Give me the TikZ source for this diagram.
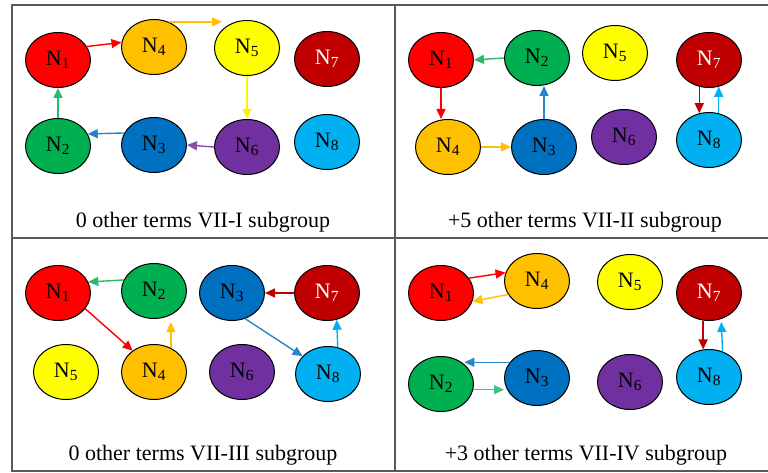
\documentclass[tikz,border=0pt]{standalone}
\usepackage{fontspec}
\setmainfont{Liberation Serif}
\usetikzlibrary{arrows.meta,shapes.geometric}

\definecolor{cred}{HTML}{FF0000}
\definecolor{cgreen}{HTML}{00B050}
\definecolor{cblue}{HTML}{0070C0}
\definecolor{corange}{HTML}{FFC000}
\definecolor{cyellow}{HTML}{FFFF00}
\definecolor{cpurple}{HTML}{7030A0}
\definecolor{cdarkred}{HTML}{C00000}
\definecolor{clightblue}{HTML}{00B0F0}

\newcommand{\Nsub}[1]{N\textsubscript{#1}}

\begin{document}
\begin{tikzpicture}[x=1pt,y=-1pt,
  every node/.style = {font=\fontsize{22}{26}\selectfont},
  term/.style = {ellipse, draw=black, line width=1pt,
    minimum width=65pt, minimum height=55pt, inner sep=0pt},
  link/.style = {line width=1.4pt, -{Triangle[length=10pt,width=9pt]}},
  caption/.style = {anchor=base},
  frame/.style = {draw=black!65, line width=1.5pt}]
  \useasboundingbox (0,0) rectangle (768,473);

  % panel grid
  \draw[frame] (768,5) -- (12,5) -- (12,471) -- (768,471);
  \draw[frame] (395,5) -- (395,471);
  \draw[frame] (12,238) -- (768,238);

  % VII-I
  \node[term, fill=cred] (p1n1) at (58,60) {\Nsub1};
  \node[term, fill=corange] (p1n4) at (154,47) {\Nsub4};
  \node[term, fill=cyellow] (p1n5) at (247,48) {\Nsub5};
  \node[term, fill=cdarkred, text=white] (p1n7) at (327,59) {\Nsub7};
  \node[term, fill=cgreen] (p1n2) at (58,146) {\Nsub2};
  \node[term, fill=cblue] (p1n3) at (154,145) {\Nsub3};
  \node[term, fill=cpurple] (p1n6) at (247,147) {\Nsub6};
  \node[term, fill=clightblue] (p1n8) at (327,142) {\Nsub8};
  \draw[link, cred] (p1n1.25) -- (p1n4.172);
  \draw[link, corange] (p1n4.60) -- ([xshift=8pt]p1n4.60 -| p1n5.west);
  \draw[link, cyellow!90!orange] (p1n5.south) -- (p1n6.north);
  \draw[link, cpurple!85!white] (p1n6.west) -- (p1n3.east);
  \draw[link, cblue!85!white] (p1n3.158) -- (p1n2.22);
  \draw[link, cgreen!85!white] (p1n2.north) -- (p1n1.south);
  \node[caption] (cap1) at (203,227) {0 other terms VII-I subgroup};

  % VII-II
  \node[term, fill=cred] (p2n1) at (441,60) {\Nsub1};
  \node[term, fill=cgreen] (p2n2) at (537,58) {\Nsub2};
  \node[term, fill=cyellow] (p2n5) at (615,53) {\Nsub5};
  \node[term, fill=cdarkred, text=white] (p2n7) at (709,60) {\Nsub7};
  \node[term, fill=corange] (p2n4) at (448,147) {\Nsub4};
  \node[term, fill=cblue] (p2n3) at (544,147) {\Nsub3};
  \node[term, fill=cpurple] (p2n6) at (624,137) {\Nsub6};
  \node[term, fill=clightblue] (p2n8) at (709,140) {\Nsub8};
  \draw[link, cgreen!85!white] (p2n2.west) -- (p2n1.east);
  \draw[link, cred] (p2n1.south) -- (p2n1.south |- p2n4.north);
  \draw[link, corange] (p2n4.east) -- (p2n3.west);
  \draw[link, cblue!85!white] (p2n3.north) -- (p2n3.north |- p2n2.south);
  \draw[link, cdarkred] (p2n7.250) -- (p2n8.110);
  \draw[link, clightblue] (p2n8.70) -- (p2n7.290);
  \node[caption] (cap2) at (585,227) {+5 other terms VII-II subgroup};

  % VII-III
  \node[term, fill=cred] (p3n1) at (58,293) {\Nsub1};
  \node[term, fill=cgreen] (p3n2) at (154,291) {\Nsub2};
  \node[term, fill=cblue] (p3n3) at (232,293) {\Nsub3};
  \node[term, fill=cdarkred, text=white] (p3n7) at (327,293) {\Nsub7};
  \node[term, fill=cyellow] (p3n5) at (66,372) {\Nsub5};
  \node[term, fill=corange] (p3n4) at (154,372) {\Nsub4};
  \node[term, fill=cpurple] (p3n6) at (242,372) {\Nsub6};
  \node[term, fill=clightblue] (p3n8) at (328,374) {\Nsub8};
  \draw[link, cgreen!85!white] (p3n2.160) -- (p3n1.20);
  \draw[link, cred] (p3n1.330) -- (p3n4.135);
  \draw[link, corange, shorten >=6pt] (p3n4.55) -- (p3n4.55 |- p3n2.300);
  \draw[link, cdarkred] (p3n7.west) -- (p3n3.east);
  \draw[link, cblue!85!white] (p3n3.297) -- (p3n8.145);
  \draw[link, clightblue] (p3n8.70) -- (p3n7.290);
  \node[caption] (cap3) at (203,460) {0 other terms VII-III subgroup};

  % VII-IV
  \node[term, fill=cred] (p4n1) at (441,293) {\Nsub1};
  \node[term, fill=corange] (p4n4) at (537,281) {\Nsub4};
  \node[term, fill=cyellow] (p4n5) at (630,282) {\Nsub5};
  \node[term, fill=cdarkred, text=white] (p4n7) at (709,293) {\Nsub7};
  \node[term, fill=cgreen] (p4n2) at (441,384) {\Nsub2};
  \node[term, fill=cblue] (p4n3) at (537,378) {\Nsub3};
  \node[term, fill=cpurple] (p4n6) at (630,382) {\Nsub6};
  \node[term, fill=clightblue] (p4n8) at (709,377) {\Nsub8};
  \draw[link, cred] (p4n1.28) -- (p4n4.165);
  \draw[link, corange] (p4n4.205) -- (p4n1.345);
  \draw[link, cblue!85!white] (p4n3.150) -- (p4n3.150 -| p4n2.40);
  \draw[link, cgreen!75!white] (p4n2.350) -- (p4n2.350 -| p4n3.west);
  \draw[link, cdarkred] (p4n7.258) -- (p4n8.102);
  \draw[link, clightblue, shorten >=3pt] (p4n8.62) -- (p4n7.295);
  \node[caption] (cap4) at (586,460) {+3 other terms VII-IV subgroup};
\end{tikzpicture}
\end{document}
